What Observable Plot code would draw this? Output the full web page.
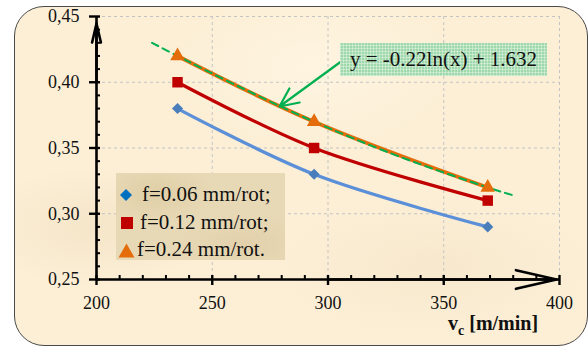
<!DOCTYPE html>
<html><head><meta charset="utf-8">
<script src="https://cdn.jsdelivr.net/npm/d3@7"></script>
<script src="https://cdn.jsdelivr.net/npm/@observablehq/plot@0.6"></script>
<style>
html,body{margin:0;padding:0;background:#fff;}
#wrap{position:relative;width:588px;height:347px;overflow:hidden;font-family:"Liberation Serif","Times New Roman",serif;color:#111;}
#bg{position:absolute;left:14px;top:6px;width:574px;height:340px;box-sizing:border-box;border:1.5px solid #4a4a4a;border-radius:30px;
  background:
   radial-gradient(ellipse 120px 60px at 80px 220px, rgba(240,222,190,0.55), rgba(240,222,190,0)),
   radial-gradient(ellipse 160px 70px at 420px 260px, rgba(243,226,196,0.5), rgba(243,226,196,0)),
   radial-gradient(ellipse 140px 80px at 300px 60px, rgba(255,248,232,0.6), rgba(255,248,232,0)),
   #fcefd6;}
#chart{position:absolute;left:0;top:0;}
#eq{position:absolute;left:340px;top:43px;width:207px;height:33px;box-sizing:border-box;
  background:
   repeating-linear-gradient(0deg, rgba(255,255,255,0.35) 0 1px, rgba(255,255,255,0) 1px 3px),
   repeating-linear-gradient(90deg, rgba(255,255,255,0.35) 0 1px, rgba(255,255,255,0) 1px 3px),
   #9fd8aa;
  font-size:21px;line-height:33px;text-align:center;color:#111;white-space:nowrap;}
#legend{position:absolute;left:116px;top:173px;width:169px;height:87px;
  background:
   radial-gradient(ellipse 60px 30px at 40px 20px, rgba(215,196,150,0.5), rgba(215,196,150,0)),
   radial-gradient(ellipse 70px 30px at 130px 70px, rgba(220,200,160,0.5), rgba(220,200,160,0)),
   #e8d9b6;}
.lg{position:absolute;font-size:21px;line-height:21px;white-space:nowrap;color:#111;}
.sym{position:absolute;}
</style>
</head><body>
<div id="wrap">
  <div id="bg"></div>
  <div id="chart"></div>
  <div id="eq"></div>
  <div id="legend"></div>
</div>
<script>
// ---- data ----
const vc = [235, 294, 369];                 // cutting speed [m/min]
const ra006 = [0.38, 0.33, 0.29];           // f=0.06 mm/rot
const ra012 = [0.40, 0.35, 0.31];           // f=0.12 mm/rot
const ra024 = [0.42, 0.37, 0.32];           // f=0.24 mm/rot
const trendX = [224, 235, 260, 294, 330, 369, 380];
const trendY = [0.430, 0.420, 0.398, 0.370, 0.344, 0.320, 0.314];
const xTicks = [200, 250, 300, 350, 400];
const yTicks = [0.25, 0.30, 0.35, 0.40, 0.45];
const seriesNames = ["f=0.06 mm/rot;", "f=0.12 mm/rot;", "f=0.24 mm/rot."];
const equationText = "y = -0.22ln(x) + 1.632";

// ---- layout ----
const W = 588, H = 347, mL = 96, mR = 29, mT = 16, mB = 68;
const ux = (400 - 200) / (W - mL - mR);   // data units per pixel (x)
const uy = (0.45 - 0.25) / (H - mT - mB); // data units per pixel (y)

const rows = (ys) => vc.map((x, i) => ({x, y: ys[i]}));
const d006 = rows(ra006), d012 = rows(ra012), d024 = rows(ra024);
const trend = trendX.map((x, i) => ({x, y: trendY[i]}));
const minorX = d3.range(210, 400, 10).filter(v => v % 50 !== 0);
const minorY = d3.range(26, 45).map(v => v / 100).filter(v => Math.round(v * 100) % 5 !== 0);

const cBlue = "#5b8fd8", cBlueM = "#4a7ebb", cRed = "#c00000", cOrange = "#e46c0a", cGreen = "#00b050";

const chart = Plot.plot({
  width: W, height: H,
  marginLeft: mL, marginRight: mR, marginTop: mT, marginBottom: mB,
  style: {fontFamily: "Liberation Serif", fontSize: "18px", background: "transparent", color: "#111", overflow: "visible"},
  x: {domain: [200, 400]},
  y: {domain: [0.25, 0.45]},
  marks: [
    Plot.gridX(xTicks.filter(v => v > 200), {stroke: "#c4c4c4", strokeOpacity: 1, strokeDasharray: "3,3"}),
    Plot.gridY(yTicks.filter(v => v > 0.25), {stroke: "#c4c4c4", strokeOpacity: 1, strokeDasharray: "3,3"}),
    Plot.axisX({ticks: xTicks, tickSize: 0, tickPadding: 17, label: null, fontSize: 18, tickFormat: d => String(d)}),
    Plot.axisY({ticks: yTicks, tickSize: 0, tickPadding: 17, label: null, fontSize: 18, tickFormat: d => d.toFixed(2).replace(".", ",")}),
    // axis lines
    Plot.ruleX([200], {y1: 0.25, y2: 0.45, stroke: "#000", strokeWidth: 2.6}),
    Plot.ruleY([0.25], {x1: 200, x2: 400, stroke: "#000", strokeWidth: 2.6}),
    Plot.arrow([0], {x1: 200, y1: 0.40, x2: 200, y2: 0.45 - 7 * uy, stroke: "#000", strokeWidth: 2.6, headLength: 22, headAngle: 26}),
    Plot.arrow([0], {x1: 300, y1: 0.25, x2: 400 - 3 * ux, y2: 0.25, stroke: "#000", strokeWidth: 2.6, headLength: 24, headAngle: 26}),
    // major ticks
    Plot.ruleX(xTicks, {x: d => d, y1: 0.25 - 6 * uy, y2: 0.25 + 4 * uy, stroke: "#000", strokeWidth: 2.4}),
    Plot.ruleY(yTicks, {y: d => d, x1: 200 - 7 * ux, x2: 200 + 4 * ux, stroke: "#000", strokeWidth: 2.4}),
    // minor ticks
    Plot.ruleX(minorX, {x: d => d, y1: 0.25, y2: 0.25 + 4 * uy, stroke: "#000", strokeWidth: 2}),
    Plot.ruleY(minorY, {y: d => d, x1: 200, x2: 200 + 4 * ux, stroke: "#000", strokeWidth: 2}),
    // series lines
    Plot.line(d006, {x: "x", y: "y", curve: "catmull-rom", stroke: cBlue, strokeWidth: 3.2}),
    Plot.line(d012, {x: "x", y: "y", curve: "catmull-rom", stroke: cRed, strokeWidth: 3.2}),
    Plot.line(d024, {x: "x", y: "y", curve: "catmull-rom", stroke: cOrange, strokeWidth: 3.8}),
    // trend line
    Plot.line(trend, {x: "x", y: "y", curve: "catmull-rom", stroke: cGreen, strokeWidth: 2, strokeDasharray: "7,5"}),
    // markers
    Plot.dot(d006, {x: "x", y: "y", symbol: "diamond2", r: 5, fill: cBlueM, stroke: "none"}),
    Plot.dot(d012, {x: "x", y: "y", symbol: "square", r: 5.9, fill: cRed, stroke: "none"}),
    Plot.dot(d024, {x: "x", y: "y", symbol: "triangle", r: 5.4, fill: cOrange, stroke: "none"}),
    // callout arrow to trend line
    Plot.arrow([0], {x1: 200 + (342 - mL) * ux, y1: 0.45 - (60 - mT) * uy, x2: 200 + (279 - mL) * ux, y2: 0.45 - (106 - mT) * uy,
      stroke: cGreen, strokeWidth: 2.2, headLength: 14, headAngle: 50})
  ]
});
document.getElementById("chart").appendChild(chart);

// axis title with subscript
const svg = d3.select(chart);
const t = svg.append("text").attr("x", 448).attr("y", 330).attr("text-anchor", "start")
  .attr("font-family", "Liberation Serif").attr("font-weight", "bold").attr("font-size", 20).attr("fill", "#111");
t.append("tspan").text("v");
t.append("tspan").attr("font-size", 14).attr("dy", 5).text("c");
t.append("tspan").attr("dy", -5).text(" [m/min]");

// equation box
document.getElementById("eq").textContent = equationText;

// legend
const legend = document.getElementById("legend");
const symDefs = [
  {svg: `<svg width="14" height="14"><path d="M7 1 L13 7 L7 13 L1 7 Z" fill="#0070c0"/></svg>`, sx: 3, tx: 26},
  {svg: `<svg width="14" height="14"><rect x="1" y="1" width="12" height="12" fill="${cRed}"/></svg>`, sx: 4, tx: 24},
  {svg: `<svg width="17" height="15"><path d="M8.5 0.5 L16.5 14.5 L0.5 14.5 Z" fill="${cOrange}"/></svg>`, sx: 2, tx: 21}
];
const rowY = [22, 50, 77];
seriesNames.forEach((name, i) => {
  const s = document.createElement("div");
  s.className = "sym";
  s.style.left = symDefs[i].sx + "px";
  s.style.top = (rowY[i] - 7) + "px";
  s.innerHTML = symDefs[i].svg;
  legend.appendChild(s);
  const l = document.createElement("div");
  l.className = "lg";
  l.style.left = symDefs[i].tx + "px";
  l.style.top = (rowY[i] - 11) + "px";
  l.textContent = name;
  legend.appendChild(l);
});
</script>
</body></html>
